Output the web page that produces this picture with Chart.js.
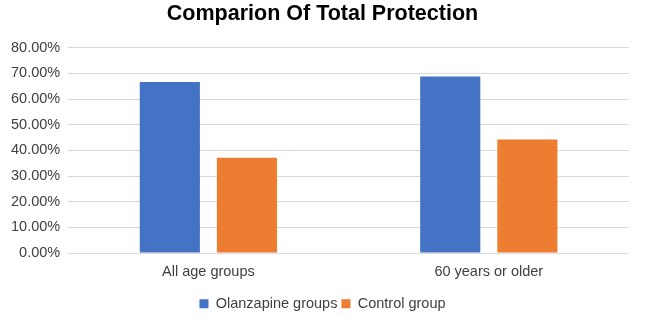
<!DOCTYPE html>
<html lang="en">
<head>
  <meta charset="UTF-8">
  <title>Comparion Of Total Protection</title>
  <style>
    html, body { margin: 0; padding: 0; background: #fff; }
    #wrap { width: 645px; height: 318px; }
  </style>
  <script src="https://cdn.jsdelivr.net/npm/chart.js"></script>
</head>
<body>
  <div id="wrap"><canvas id="chart"></canvas></div>
  <script>
    const categories = ['All age groups', '60 years or older'];
    const olanzapine = [66.7, 68.8];
    const control = [37.2, 44.3];

    const textColor = '#404040';
    const fontFamily = '"Liberation Sans", Arial, sans-serif';

    new Chart(document.getElementById('chart'), {
      type: 'bar',
      data: {
        labels: categories,
        datasets: [
          { label: 'Olanzapine groups', data: olanzapine, backgroundColor: '#4472C4' },
          { label: 'Control group', data: control, backgroundColor: '#ED7D31' }
        ]
      },
      options: {
        responsive: true,
        maintainAspectRatio: false,
        animation: false,
        categoryPercentage: 0.55,
        barPercentage: 0.78,
        layout: { padding: { left: 3, right: 3, top: 0, bottom: -3 } },
        plugins: {
          title: {
            display: true,
            text: 'Comparion Of Total Protection',
            color: '#000',
            font: { family: fontFamily, size: 21.5, weight: 'bold' },
            padding: { top: 1, bottom: 21 }
          },
          legend: {
            position: 'bottom',
            labels: {
              color: textColor,
              font: { family: fontFamily, size: 14.5 },
              boxWidth: 9,
              boxHeight: 9,
              padding: 4
            }
          },
          tooltip: { enabled: false }
        },
        scales: {
          x: {
            grid: { display: false },
            border: { display: false },
            ticks: { color: textColor, font: { family: fontFamily, size: 14.5 }, padding: 2 },
            afterFit: axis => { axis.height += 10; }
          },
          y: {
            min: 0,
            max: 80,
            grid: { color: '#d9d9d9', drawTicks: false },
            border: { display: false },
            ticks: {
              stepSize: 10,
              color: textColor,
              font: { family: fontFamily, size: 14.5 },
              padding: 8,
              callback: v => v.toFixed(2) + '%'
            }
          },
          // empty right axis, only used as a right margin so the title stays centred
          yRight: {
            position: 'right',
            grid: { display: false },
            border: { display: false },
            ticks: { display: false },
            afterFit: axis => { axis.width = 13; }
          }
        }
      }
    });
  </script>
</body>
</html>
